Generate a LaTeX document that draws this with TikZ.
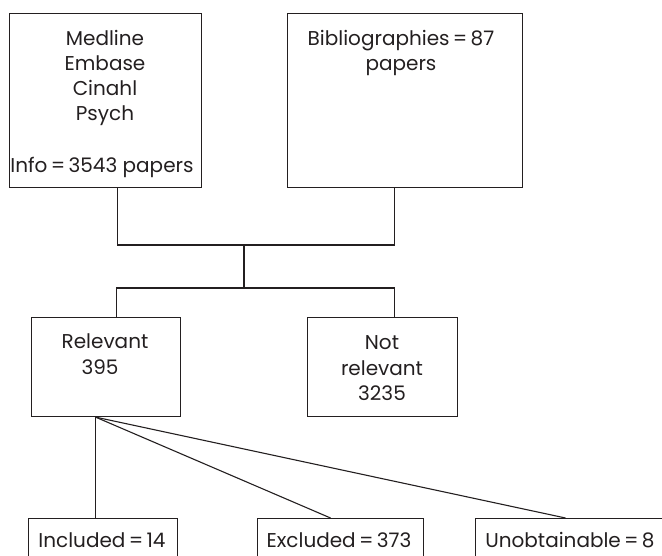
\documentclass[tikz,border=0pt]{standalone}
\usepackage{fontspec}
\setmainfont{Poppins}
\begin{document}
\begin{tikzpicture}[x=1pt,y=-1pt,
  box/.style={draw=ink, line width=1.1pt, inner sep=0pt, anchor=north west},
  wire/.style={draw=ink, line width=1.1pt},
  txt/.style={anchor=base, inner sep=0pt, text=ink, font=\fontsize{20}{25}\selectfont}]
\definecolor{ink}{HTML}{231F20}
\useasboundingbox (0,0) rectangle (662,555);
\clip (0,0) rectangle (662,555);
% boxes
\node[box, minimum width=192pt, minimum height=174pt] (med) at (9,13) {};
\node[box, minimum width=235pt, minimum height=174pt] (bib) at (287,13) {};
\node[box, minimum width=149pt, minimum height=99pt] (rel) at (31,317) {};
\node[box, minimum width=150pt, minimum height=99pt] (nrel) at (307,317) {};
\node[box, minimum width=149pt, minimum height=60pt] (inc) at (28,518) {};
\node[box, minimum width=166pt, minimum height=60pt] (exc) at (257,518) {};
\node[box, minimum width=190pt, minimum height=60pt] (unob) at (475,518) {};
% texts
\node[txt] (t1) at (105,45) {Medline};
\node[txt] (t2) at (105,70) {Embase};
\node[txt] (t3) at (105,95) {Cinahl};
\node[txt] (t4) at (105,120) {Psych};
\node[txt] (t5) at (102,172) {Info\,=\,3543 papers};
\node[txt] (t6) at (401,45) {Bibliographies\,=\,87};
\node[txt] (t7) at (401,70) {papers};
\node[txt] (t8) at (105,348) {Relevant};
\node[txt] (t9) at (100,374) {395};
\node[txt] (t10) at (382,349) {Not};
\node[txt] (t11) at (382,375) {relevant};
\node[txt] (t12) at (382,400) {3235};
\node[txt] (t13) at (102,547) {Included\,=\,14};
\node[txt] (t14) at (339,547) {Excluded\,=\,373};
\node[txt] (t15) at (570,547) {Unobtainable\,=\,8};
% junctions
\coordinate (j1) at (244,245);
\coordinate (j2) at (244,288);
\draw[wire] ([xshift=11.5pt]med.south) |- (j1) -| ([xshift=-10.5pt]bib.south);
\draw[wire] (j1) -- (j2);
\draw[wire] ([xshift=10.5pt]rel.north) |- (j2) -| ([xshift=12pt]nrel.north);
% fan
\draw[wire] ([xshift=-10.5pt]rel.south) -- ([xshift=-7.5pt]inc.north);
\draw[wire] ([xshift=-10.5pt]rel.south) -- ([xshift=-10pt]exc.north);
\draw[wire] ([xshift=-10.5pt]rel.south) -- ([xshift=-5pt]unob.north);
\end{tikzpicture}
\end{document}
